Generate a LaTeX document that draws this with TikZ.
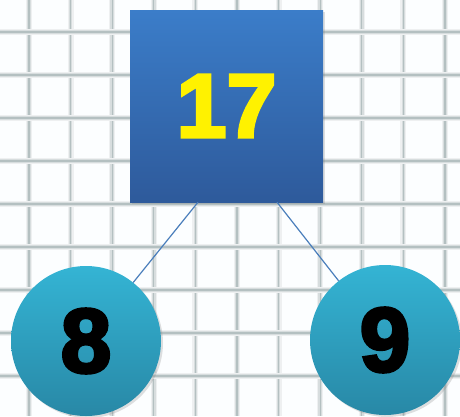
\documentclass[tikz,border=0pt]{standalone}
\usepackage{fontspec}
\usepackage{xcolor}
\usepackage{tikz}
\usetikzlibrary{shadows}

\newfontfamily\heavyfont[FakeBold=3.5]{Liberation Sans Bold}
\definecolor{gridline}{RGB}{140,158,160}
\definecolor{sqtop}{RGB}{59,125,201}
\definecolor{sqbot}{RGB}{46,90,155}
\definecolor{balltop}{RGB}{52,180,212}
\definecolor{ballbot}{RGB}{40,136,166}
\definecolor{linkblue}{RGB}{74,126,187}

\begin{document}
\begin{tikzpicture}[
    x=1pt, y=-1pt,
    total/.style={rectangle, minimum width=193pt, minimum height=192pt, inner sep=0pt,
                  top color=sqtop, bottom color=sqbot,
                  drop shadow={opacity=0.25, shadow xshift=2pt, shadow yshift=-2pt},
                  font=\heavyfont\fontsize{90}{90}\selectfont, text=yellow},
    part/.style={circle, minimum size=150pt, inner sep=0pt,
                 top color=balltop, bottom color=ballbot,
                 drop shadow={opacity=0.25, shadow xshift=2pt, shadow yshift=-2pt},
                 font=\heavyfont\fontsize{91}{91}\selectfont, text=black},
    link/.style={draw=linkblue, line width=1.2pt}
  ]
  % paper background with blurred grid
  \fill[white!99!cyan] (0,0) rectangle (460,416);
  \useasboundingbox (0,0) rectangle (460,416);
  \foreach \i in {0,...,10} {
    \draw[gridline!15, line width=6pt] (29+41.6*\i,0) -- (29+41.6*\i,416);
    \draw[gridline!35, line width=3.5pt] (29+41.6*\i,0) -- (29+41.6*\i,416);
    \draw[gridline!65, line width=1.3pt] (29+41.6*\i,0) -- (29+41.6*\i,416);
  }
  \foreach \j in {0,...,8} {
    \draw[gridline!15, line width=6pt] (0,32+43*\j) -- (460,32+43*\j);
    \draw[gridline!35, line width=3.5pt] (0,32+43*\j) -- (460,32+43*\j);
    \draw[gridline!65, line width=1.3pt] (0,32+43*\j) -- (460,32+43*\j);
  }

  \node[total] (sum) at (226.5,106) {17};
  \node[part] (left) at (86,341) {8};
  \node[part] (right) at (385,340) {9};

  \draw[link] ([xshift=-28.5pt]sum.south) -- (left);
  \draw[link] ([xshift=50.5pt]sum.south) -- (right);
\end{tikzpicture}
\end{document}
